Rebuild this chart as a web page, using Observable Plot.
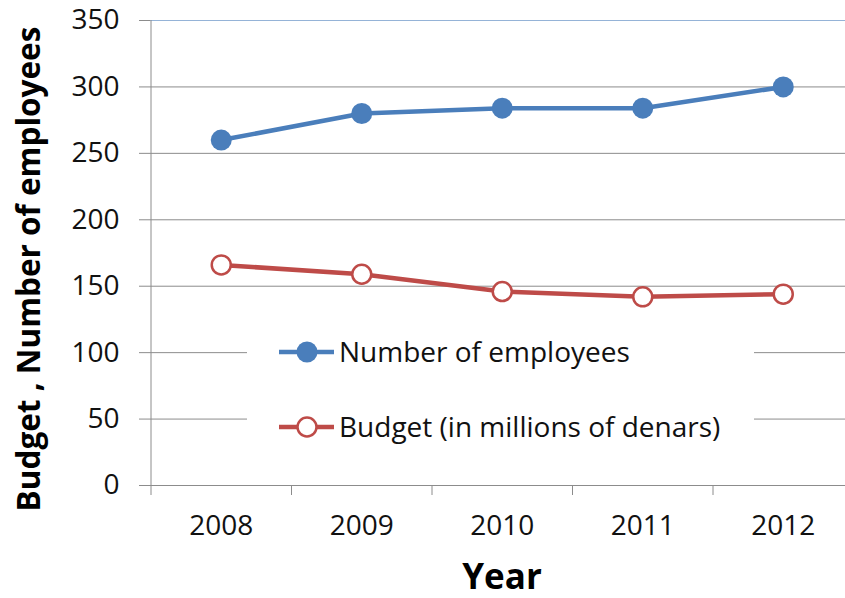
<!DOCTYPE html>
<html>
<head>
<meta charset="utf-8">
<script src="https://cdn.jsdelivr.net/npm/d3@7"></script>
<script src="https://cdn.jsdelivr.net/npm/@observablehq/plot@0.6"></script>
<style>
  html, body { margin: 0; padding: 0; background: #fff; overflow: hidden; }
  #wrap { position: relative; width: 845px; height: 598px; overflow: hidden; }
  #legend { position: absolute; left: 247px; top: 314px; width: 507px; height: 150px; background: #fff; }
</style>
</head>
<body>
<div id="wrap"></div>
<script>
const years = [2008, 2009, 2010, 2011, 2012];
const employees = [260, 280, 284, 284, 300];
const budget = [166, 159, 146, 142, 144];
const yTicks = [0, 50, 100, 150, 200, 250, 300, 350];
const boundaries = [2007.5, 2008.5, 2009.5, 2010.5, 2011.5, 2012.5];
const seriesNames = ["Number of employees", "Budget (in millions of denars)"];
const blue = "#4a7ebb";
const red = "#be4b48";
const gridGray = "#8c8c8c";
const font = "'Open Sans', sans-serif";

const empData = years.map((y, i) => ({year: y, value: employees[i]}));
const budData = years.map((y, i) => ({year: y, value: budget[i]}));

const chart = Plot.plot({
  width: 845,
  height: 598,
  marginLeft: 150,
  marginRight: 0,
  marginTop: 20,
  marginBottom: 113,
  style: {fontFamily: font, background: "#fff", overflow: "hidden"},
  x: {domain: [2007.5, 2012.5], range: [150.5, 853]},
  y: {domain: [0, 350]},
  marks: [
    Plot.ruleY(yTicks, {stroke: d => d === 350 ? "#95b3d7" : gridGray, strokeWidth: 1}),
    Plot.ruleX([2007.5], {stroke: gridGray}),
    Plot.axisY({ticks: yTicks, tickSize: 11, tickPadding: 20, fontSize: 28, fill: "#111", stroke: gridGray, label: null}),
    Plot.axisX({ticks: boundaries, tickSize: 10, tickFormat: () => "", stroke: gridGray, label: null}),
    Plot.axisX({ticks: years, tickSize: 0, tickPadding: 30, tickFormat: d => String(d), fontSize: 28, fill: "#111", label: null}),
    Plot.line(empData, {x: "year", y: "value", stroke: blue, strokeWidth: 4.5}),
    Plot.dot(empData, {x: "year", y: "value", r: 10.5, fill: blue}),
    Plot.line(budData, {x: "year", y: "value", stroke: red, strokeWidth: 4.5}),
    Plot.dot(budData, {x: "year", y: "value", r: 9.5, fill: "#fff", stroke: red, strokeWidth: 2.5}),
    Plot.text(["Budget , Number of employees"], {frameAnchor: "left", textAnchor: "middle", lineAnchor: "middle", dx: -121, dy: 16, rotate: -90, fontSize: 31.5, fontWeight: "bold", fill: "#000"}),
    Plot.text(["Year"], {frameAnchor: "bottom", lineAnchor: "middle", dx: 4, dy: 92, fontSize: 35, fontWeight: "bold", fill: "#000"})
  ]
});
document.getElementById("wrap").appendChild(chart);

// Legend (inside plot area, white box)
const legend = d3.select("#wrap").append("div").attr("id", "legend");
const lsvg = legend.append("svg").attr("width", 507).attr("height", 150);
const entries = [
  {name: seriesNames[0], color: blue, fill: blue, r: 10.5, sw: 0, y: 38},
  {name: seriesNames[1], color: red, fill: "#fff", r: 9.5, sw: 2.5, y: 113}
];
const g = lsvg.selectAll("g").data(entries).join("g").attr("transform", d => `translate(0,${d.y})`);
g.append("line").attr("x1", 32).attr("x2", 87).attr("y1", 0).attr("y2", 0)
  .attr("stroke", d => d.color).attr("stroke-width", 4.5);
g.append("circle").attr("cx", 60).attr("cy", 0).attr("r", d => d.r)
  .attr("fill", d => d.fill).attr("stroke", d => d.sw ? d.color : "none").attr("stroke-width", d => d.sw);
g.append("text").attr("x", 92).attr("y", 0).attr("dy", "0.35em")
  .attr("font-family", font).attr("font-size", 28).attr("fill", "#111")
  .text(d => d.name);
</script>
</body>
</html>
